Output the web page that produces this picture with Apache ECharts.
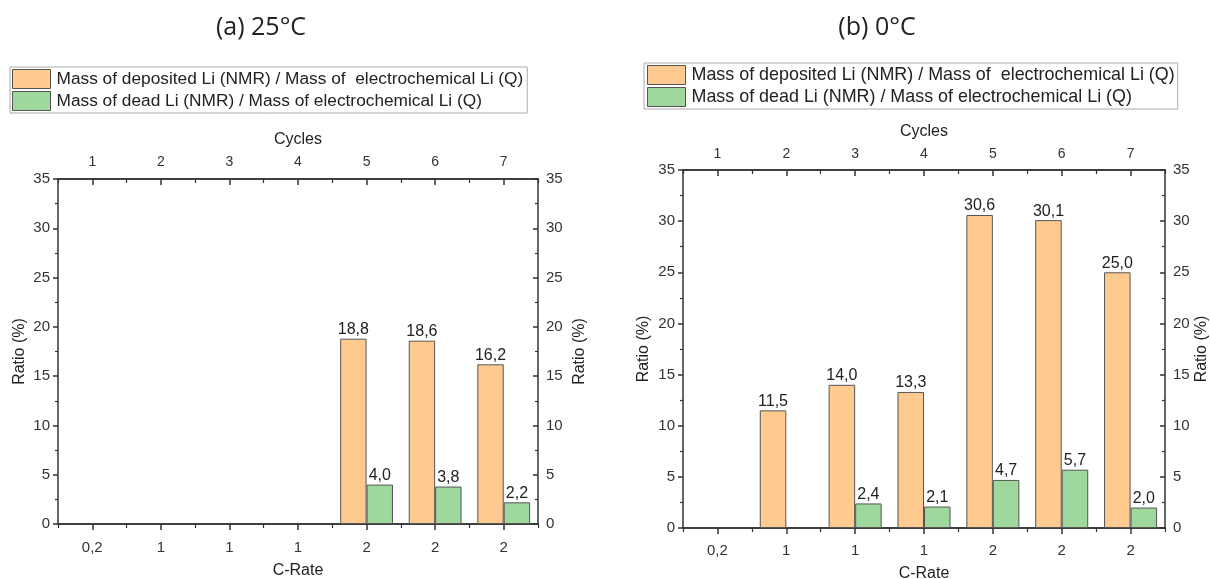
<!DOCTYPE html>
<html>
<head>
<meta charset="utf-8">
<script src="https://cdn.jsdelivr.net/npm/echarts@6/dist/echarts.min.js"></script>
<style>html,body{margin:0;padding:0;background:#fff}#c{width:1210px;height:579px}</style>
</head>
<body>
<div id="c"></div>
<script>
const cycles = ['1','2','3','4','5','6','7'];
const cRates = ['0,2','1','1','1','2','2','2'];
const yTicks = [0,5,10,15,20,25,30,35];
const seriesNames = ['Mass of deposited Li (NMR) / Mass of  electrochemical Li (Q)', 'Mass of dead Li (NMR) / Mass of electrochemical Li (Q)'];
const deposited25 = [null, null, null, null, 18.8, 18.6, 16.2];
const dead25 = [null, null, null, null, 4.0, 3.8, 2.2];
const deposited0 = [null, 11.5, 14.0, 13.3, 30.6, 30.1, 25.0];
const dead0 = [null, null, 2.4, 2.1, 4.7, 5.7, 2.0];
const titles = ['(a) 25°C', '(b) 0°C'];

const FONT = 'Liberation Sans, Arial, sans-serif';
const AX = '#333';
const ORANGE = '#FFCA8F';
const GREEN = '#9ED89C';

const grids = [
  {left: 58, right: 672, top: 179, bottom: 55, outerBoundsMode: 'none', containLabel: false},
  {left: 683, right: 45, top: 170, bottom: 51, outerBoundsMode: 'none', containLabel: false}
];
const P = [
  {tick: 15, top: 14, name: 16, label: 16, cycGap: 31, cycMargin: 10, crMargin: 16, crGap: 39, yGapL: 30, yGapR: 34},
  {tick: 15, top: 14, name: 16, label: 16, cycGap: 30, cycMargin: 9, crMargin: 15, crGap: 38, yGapL: 31, yGapR: 29}
];

const xAxes = [], yAxes = [], series = [];
grids.forEach((g, gi) => {
  const p = P[gi];
  const base = {type: 'category', gridIndex: gi, data: cRates, boundaryGap: true,
    axisLine: {show: true, lineStyle: {color: AX, width: 1.5}}, splitLine: {show: false}};
  xAxes.push(Object.assign({}, base, {position: 'bottom', name: 'C-Rate', nameLocation: 'middle', nameGap: p.crGap,
    nameTextStyle: {fontFamily: FONT, fontSize: p.name, color: '#222'},
    axisTick: {show: true, alignWithLabel: true, inside: false, length: 6, lineStyle: {color: AX, width: 1.5}},
    axisLabel: {show: true, margin: p.crMargin, fontFamily: FONT, fontSize: p.tick, color: '#333'}}));
  xAxes.push(Object.assign({}, base, {position: 'bottom',
    axisTick: {show: true, alignWithLabel: false, inside: false, length: 4, lineStyle: {color: AX, width: 1.2}},
    axisLabel: {show: false}}));
  xAxes.push(Object.assign({}, base, {data: cycles, position: 'top', name: 'Cycles', nameLocation: 'middle', nameGap: p.cycGap,
    nameTextStyle: {fontFamily: FONT, fontSize: p.name, color: '#222'},
    axisTick: {show: true, alignWithLabel: true, inside: true, length: 6, lineStyle: {color: AX, width: 1.5}},
    axisLabel: {show: true, margin: p.cycMargin, fontFamily: FONT, fontSize: p.top, color: '#333'}}));
  xAxes.push(Object.assign({}, base, {data: cycles, position: 'top',
    axisTick: {show: true, alignWithLabel: false, inside: true, length: 4, lineStyle: {color: AX, width: 1.2}},
    axisLabel: {show: false}}));
  const yBase = {type: 'value', gridIndex: gi, min: yTicks[0], max: yTicks[yTicks.length - 1], interval: 5,
    name: 'Ratio (%)', nameLocation: 'middle',
    nameTextStyle: {fontFamily: FONT, fontSize: p.name, color: '#222'},
    axisLine: {show: true, lineStyle: {color: AX, width: 1.5}}, splitLine: {show: false},
    minorTick: {show: true, splitNumber: 2, length: 3, lineStyle: {color: AX, width: 1.2}},
    axisLabel: {show: true, margin: 8, fontFamily: FONT, fontSize: p.tick, color: '#333'}};
  yAxes.push(Object.assign({}, yBase, {position: 'left', nameGap: p.yGapL,
    axisTick: {show: true, inside: false, length: 5, lineStyle: {color: AX, width: 1.5}}}));
  yAxes.push(Object.assign({}, yBase, {position: 'right', nameGap: p.yGapR,
    axisTick: {show: true, inside: true, length: 5, lineStyle: {color: AX, width: 1.5}},
    axisLabel: {show: true, margin: 8, fontFamily: FONT, fontSize: p.tick, color: '#333'}}));
});

const fmt = p => (p.value == null ? '' : Number(p.value).toFixed(1).replace('.', ','));
const mkSeries = (name, data, gi, color) => ({
  type: 'bar', name, data, xAxisIndex: gi * 4, yAxisIndex: gi * 2,
  barGap: '0%', barCategoryGap: '23%',
  itemStyle: {color, borderColor: '#555', borderWidth: 1},
  label: {show: true, position: 'top', distance: 1, formatter: fmt, fontFamily: FONT, fontSize: P[gi].label, color: '#222'},
  emphasis: {disabled: true}
});
series.push(mkSeries(seriesNames[0], deposited25, 0, ORANGE));
series.push(mkSeries(seriesNames[1], dead25, 0, GREEN));
series.push(mkSeries(seriesNames[0], deposited0, 1, ORANGE));
series.push(mkSeries(seriesNames[1], dead0, 1, GREEN));

const legendBase = {orient: 'vertical', itemWidth: 38, itemHeight: 19, itemGap: 2,
  borderColor: '#aaa', borderWidth: 1, data: seriesNames, selectedMode: false,
  itemStyle: {borderColor: '#555', borderWidth: 1}, icon: 'rect'};

const option = {
  animation: false,
  backgroundColor: '#fff',
  grid: grids,
  xAxis: xAxes,
  yAxis: yAxes,
  legend: [
    Object.assign({}, legendBase, {left: 10, top: 67, padding: [2, 4, 2, 2],
      textStyle: {fontFamily: FONT, fontSize: 17.3, color: '#222', padding: [0, 0, 0, 1]}}),
    Object.assign({}, legendBase, {left: 644, top: 63, padding: [2, 3, 2, 3],
      textStyle: {fontFamily: FONT, fontSize: 17.9, color: '#222', padding: [0, 0, 0, 1]}})
  ],
  graphic: [
    {type: 'text', x: 261, y: 28, style: {text: titles[0], font: '25px "Open Sans", sans-serif', fill: '#222', textAlign: 'center', textVerticalAlign: 'middle'}},
    {type: 'text', x: 877, y: 28, style: {text: titles[1], font: '25px "Open Sans", sans-serif', fill: '#222', textAlign: 'center', textVerticalAlign: 'middle'}}
  ],
  series
};
const chart = echarts.init(document.getElementById('c'), null, {renderer: 'canvas'});
chart.setOption(option);
</script>
</body>
</html>
